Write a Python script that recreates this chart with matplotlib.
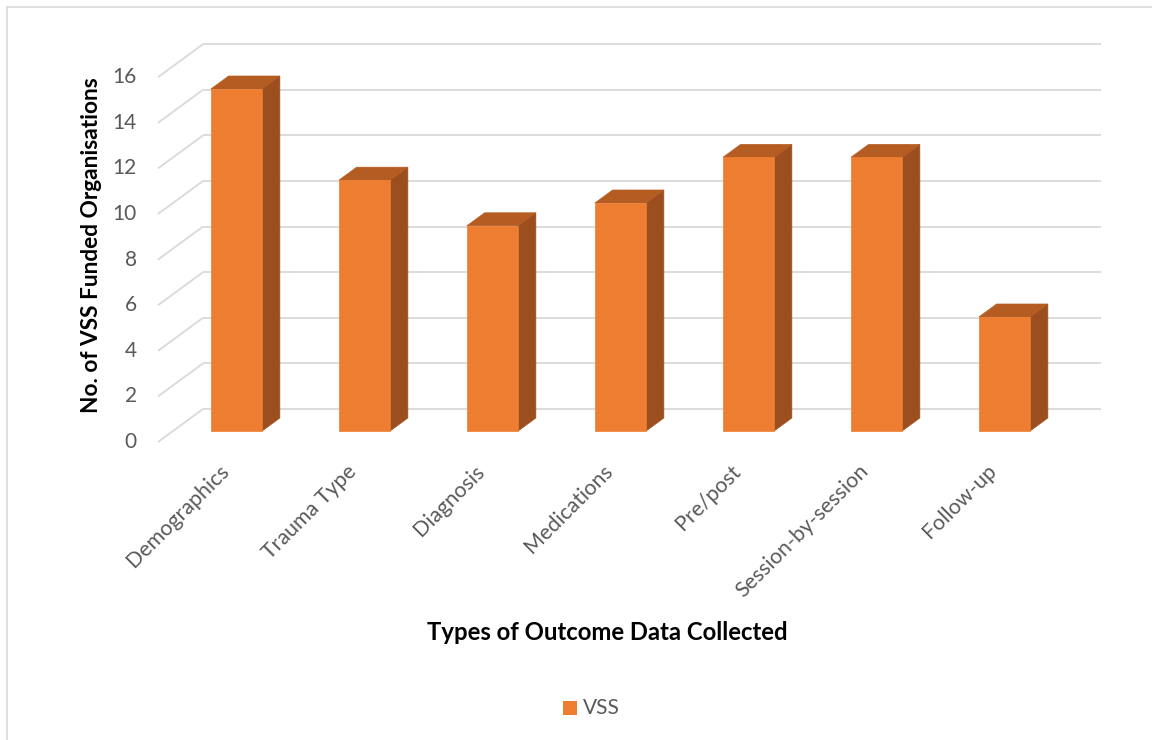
import matplotlib
matplotlib.use("Agg")
import matplotlib.pyplot as plt
from matplotlib.patches import Polygon, Rectangle
import numpy as np

categories = ["Demographics", "Trauma Type", "Diagnosis", "Medications",
              "Pre/post", "Session-by-session", "Follow-up"]
values = [15, 11, 9, 10, 12, 12, 5]
yticks = [0, 2, 4, 6, 8, 10, 12, 14, 16]
series_name = "VSS"

FRONT = "#ED7D31"
SIDE = "#9C4E1E"
TOP = "#B55C22"
GRID = "#D9D9D9"
TXT = "#595959"

plt.rcParams['font.family'] = ['Lato', 'DejaVu Sans']

W, H = 1152, 740
fig = plt.figure(figsize=(W / 100, H / 100), dpi=100)
ax = fig.add_axes([0, 0, 1, 1])
# data coords: x = category index, y = value (front plane of bars)
px_per_cat = 128.0
px_per_val = 22.8
x0_px = 236.5   # pixel x of category 0 centre
y0_px = 431.0   # pixel y (from top) of value 0 at bar front
ax.set_xlim(-x0_px / px_per_cat, (W - x0_px) / px_per_cat)
ax.set_ylim((y0_px - H) / px_per_val, y0_px / px_per_val)
ax.axis("off")

# depth direction in data units (per unit depth, from floor front to back wall)
ddx = 45.0 / px_per_cat
ddy = 33.0 / px_per_val
d_bar_front = 11.0 / 33.0
d_bar_back = d_bar_front + 13.0 / 33.0
d_back = 1.0

def depth(x, y, d):
    # convert point defined at bar-front plane to point at depth d
    return x + (d - d_bar_front) * ddx, y + (d - d_bar_front) * ddy

# gridlines
left_x = (158 + 15 - x0_px) / px_per_cat
right_back_x = (1101 - x0_px) / px_per_cat
for v in yticks:
    xa, ya = depth(left_x, v, 0.0)
    xb, yb = depth(left_x, v, d_back)
    ax.plot([xa, xb], [ya, yb], color=GRID, lw=1.3, zorder=1, solid_capstyle="butt")
    ax.plot([xb, right_back_x], [yb, yb], color=GRID, lw=1.3, zorder=1, solid_capstyle="butt")
    ax.text(xa - 21 / px_per_cat, ya, str(v), ha="right", va="center",
            fontsize=15, color=TXT)

# bars
bw = 0.4
for i, v in enumerate(values):
    xl, xr = i - bw / 2, i + bw / 2
    fl = [(xl, 0), (xr, 0), (xr, v), (xl, v)]
    side = [(xr, 0), depth(xr, 0, d_bar_back), depth(xr, v, d_bar_back), (xr, v)]
    top = [(xl, v), (xr, v), depth(xr, v, d_bar_back), depth(xl, v, d_bar_back)]
    ax.add_patch(Polygon(side, closed=True, facecolor=SIDE, edgecolor=SIDE, lw=0.5, zorder=3))
    ax.add_patch(Polygon(top, closed=True, facecolor=TOP, edgecolor=TOP, lw=0.5, zorder=3))
    ax.add_patch(Polygon(fl, closed=True, facecolor=FRONT, edgecolor=FRONT, lw=0.5, zorder=4))
    ax.text(i - 11 / px_per_cat, -37 / px_per_val, categories[i], rotation=45,
            rotation_mode="anchor", ha="right", va="center", fontsize=15.4, color=TXT)

# axis titles
ax.text((92 - x0_px) / px_per_cat, (y0_px - 245) / px_per_val,
        "No. of VSS Funded Organisations", rotation=90, ha="center", va="center",
        fontsize=16.3, fontweight="bold", color="black")
ax.text((607 - x0_px) / px_per_cat, (y0_px - 633) / px_per_val,
        "Types of Outcome Data Collected", ha="center", va="center",
        fontsize=17.2, fontweight="bold", color="black")

# legend
lx = (563 - x0_px) / px_per_cat
ly = (y0_px - 708) / px_per_val
ax.add_patch(Rectangle((lx, ly - 7 / px_per_val), 14 / px_per_cat, 14 / px_per_val,
                       facecolor=FRONT, edgecolor="none"))
ax.text(lx + 20 / px_per_cat, ly, series_name, ha="left", va="center",
        fontsize=15, color=TXT)

# chart border
fig.add_artist(plt.Line2D([7 / W, 7 / W], [0, 1 - 7 / H], color=GRID, lw=1.2))
fig.add_artist(plt.Line2D([7 / W, 1], [1 - 7 / H, 1 - 7 / H], color=GRID, lw=1.2))

fig.savefig("out.png", dpi=100, facecolor="white")
